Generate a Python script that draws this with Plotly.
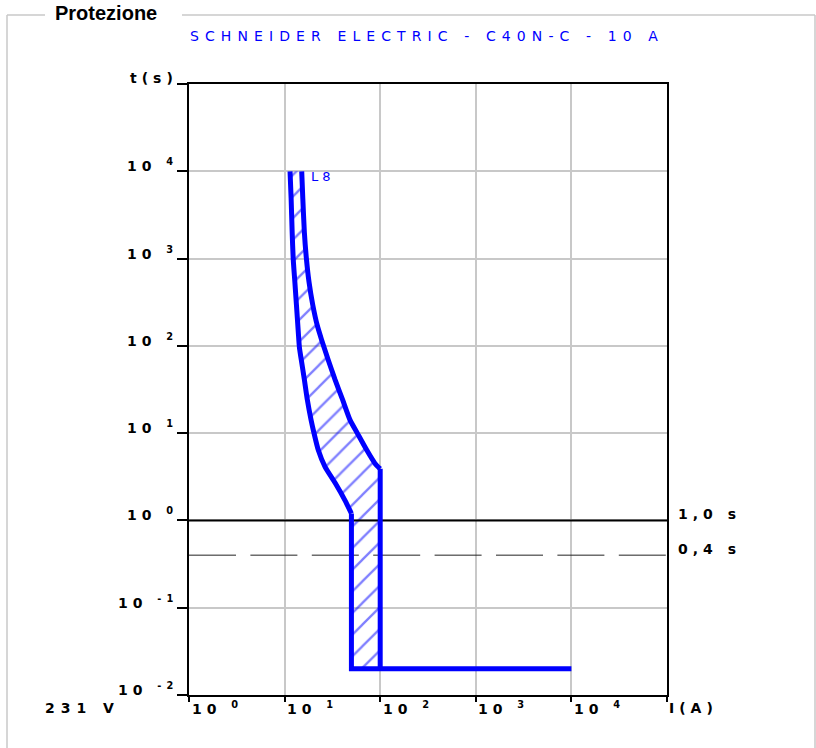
import math
import plotly.graph_objects as go

# ---------------- data ----------------
# minimum tripping curve (left edge of the band) : current (A), time (s)
left_I = [11.4, 11.7, 12.0, 12.3, 12.8, 13.3, 13.9, 14.3, 14.95, 16.1, 17.3, 18.9, 20.3,
          22.5, 26.5, 33.7, 42.8, 50.0, 50.0, 10000]
left_t = [10000, 4900, 2000, 1000, 540, 295, 145, 95, 69, 41, 24, 14.2, 10,
          6.4, 4.1, 2.7, 1.7, 1.2, 0.02, 0.02]
# maximum tripping curve (right edge of the band)
right_I = [15.1, 15.5, 16.1, 16.9, 18.0, 19.7, 22.0, 24.4, 28.6, 33.7, 40.5, 48.3, 57.6,
           72.3, 88.2, 100, 100]
right_t = [10000, 4900, 2000, 1000, 540, 295, 170, 117, 69, 41, 24, 14.2, 10,
           6.4, 4.5, 3.9, 0.02]
LEFT_BEND = 17    # index of the point where the left curve turns vertical
RIGHT_BEND = 15   # index of the point where the right curve turns vertical

ref_times = [1.0, 0.4]
ref_labels = ["1,0 s", "0,4 s"]

x_tick_exps = ["0", "1", "2", "3", "4"]
y_tick_exps = ["-2", "-1", "0", "1", "2", "3", "4"]
x_axis_label = "I(A)"
y_axis_label = "t(s)"
voltage_label = "231 V"
curve_label = "L8"
title_text = "SCHNEIDER ELECTRIC - C40N-C - 10 A"
box_title = "Protezione"

# ---------------- layout geometry ----------------
W, H = 816, 748
ML, MR, MT, MB = 189, 149, 84, 53
PW = W - ML - MR
PH = H - MT - MB


def px(x):
    return (x - ML) / PW


def py(y):
    return (H - MB - y) / PH


BLUE = "#0000ff"
FONT = "DejaVu Sans"
LABEL_SIZE = 14
LABEL_LS = 5


def spaced(text, ls):
    return f"<span style='letter-spacing:{ls}px'>{text}</span>"


def power_label(e):
    return spaced(f"10 <sup>{e}</sup>", LABEL_LS)


fig = go.Figure()

# hatched band between the two curves
band_x = left_I[:-1] + right_I[::-1]
band_y = left_t[:-1] + right_t[::-1]
fig.add_trace(go.Scatter(
    x=band_x, y=band_y, mode="lines", fill="toself",
    line=dict(width=0, color=BLUE),
    fillcolor="rgba(0,0,0,0)",
    fillpattern=dict(shape="/", size=15.3, solidity=0.15,
                     fgcolor=BLUE, bgcolor="rgba(0,0,0,0)"),
    hoverinfo="skip",
))

# reference time lines
fig.add_trace(go.Scatter(x=[1, 1e5], y=[ref_times[0]] * 2, mode="lines",
                         line=dict(color="black", width=2), hoverinfo="skip"))
fig.add_trace(go.Scatter(x=[1, 1e5], y=[ref_times[1]] * 2, mode="lines",
                         line=dict(color="#222222", width=1, dash="47px,14.4px"),
                         hoverinfo="skip"))

# curves: smooth thermal/magnetic part, then straight vertical/horizontal part
fig.add_trace(go.Scatter(x=left_I[:LEFT_BEND + 1], y=left_t[:LEFT_BEND + 1], mode="lines",
                         line=dict(color=BLUE, width=5, shape="spline", smoothing=0.6),
                         hoverinfo="skip"))
fig.add_trace(go.Scatter(x=left_I[LEFT_BEND:], y=left_t[LEFT_BEND:], mode="lines",
                         line=dict(color=BLUE, width=5), hoverinfo="skip"))
fig.add_trace(go.Scatter(x=right_I[:RIGHT_BEND + 1], y=right_t[:RIGHT_BEND + 1], mode="lines",
                         line=dict(color=BLUE, width=5, shape="spline", smoothing=0.6),
                         hoverinfo="skip"))
fig.add_trace(go.Scatter(x=right_I[RIGHT_BEND:], y=right_t[RIGHT_BEND:], mode="lines",
                         line=dict(color=BLUE, width=5), hoverinfo="skip"))

annotations = []
LFONT = dict(family=FONT, size=LABEL_SIZE, color="black", weight="bold")

# y tick labels
for e in y_tick_exps:
    annotations.append(dict(
        text=power_label(e), xref="paper", x=px(178),
        yref="y", y=int(e), yshift=6, xanchor="right", yanchor="middle",
        showarrow=False, font=LFONT, borderpad=0, borderwidth=0))
annotations.append(dict(
    text=spaced(y_axis_label, LABEL_LS), xref="paper", x=px(178),
    yref="y", y=5, yshift=6, xanchor="right", yanchor="middle",
    showarrow=False, font=LFONT, borderpad=0, borderwidth=0))

# x tick labels
for e in x_tick_exps:
    annotations.append(dict(
        text=power_label(e), xref="x", x=int(e), xshift=2.5,
        yref="paper", y=0, yshift=-13, xanchor="left", yanchor="middle",
        showarrow=False, font=LFONT, borderpad=0, borderwidth=0))
annotations.append(dict(
    text=spaced(x_axis_label, LABEL_LS), xref="x", x=5, xshift=2,
    yref="paper", y=0, yshift=-13, xanchor="left", yanchor="middle",
    showarrow=False, font=LFONT, borderpad=0, borderwidth=0))
annotations.append(dict(
    text=spaced(voltage_label, 6), xref="paper", x=px(45),
    yref="paper", y=0, yshift=-13, xanchor="left", yanchor="middle",
    showarrow=False, font=LFONT, borderpad=0, borderwidth=0))

# reference line labels
for t, lab in zip(ref_times, ref_labels):
    annotations.append(dict(
        text=spaced(lab, LABEL_LS), xref="paper", x=px(678),
        yref="y", y=math.log10(t), yshift=6, xanchor="left", yanchor="middle",
        showarrow=False, font=LFONT, borderpad=0, borderwidth=0))

# curve label
annotations.append(dict(
    text=spaced(curve_label, 4), xref="paper", x=px(311),
    yref="y", y=4, yshift=-5, xanchor="left", yanchor="middle",
    showarrow=False, font=dict(family=FONT, size=13, color=BLUE),
    borderpad=0, borderwidth=0))

# title
annotations.append(dict(
    text=spaced(title_text, 6.1), xref="paper", x=px(427),
    yref="paper", y=py(36), xanchor="center", yanchor="middle",
    showarrow=False, font=dict(family=FONT, size=14, color=BLUE),
    borderpad=0, borderwidth=0))

# group box title
annotations.append(dict(
    text=f"<b>{box_title}</b>", xref="paper", x=px(55),
    yref="paper", y=py(13), xanchor="left", yanchor="middle",
    showarrow=False, font=dict(family="Liberation Sans", size=20, color="black"),
    borderpad=0, borderwidth=0))

# group box frame
FR = "#c8c8c8"
shapes = []
for (x0, y0, x1, y1) in [(7, 15, 45, 15), (182, 15, 815, 15),
                         (7, 15, 7, 760), (815, 15, 815, 760)]:
    shapes.append(dict(type="line", xref="paper", yref="paper",
                       x0=px(x0), y0=py(y0), x1=px(x1), y1=py(y1),
                       line=dict(color=FR, width=1.5)))

fig.update_layout(
    width=W, height=H,
    margin=dict(l=ML, r=MR, t=MT, b=MB),
    paper_bgcolor="white", plot_bgcolor="white",
    showlegend=False,
    annotations=annotations,
    shapes=shapes,
    xaxis=dict(type="log", range=[0, 5], tickvals=[10 ** i for i in range(0, 6)],
               showticklabels=False, ticks="outside", ticklen=5, tickwidth=2,
               tickcolor="black", showline=True, linecolor="black", linewidth=2,
               mirror=True, showgrid=True, gridcolor="#c8c8c8", gridwidth=2,
               zeroline=False, fixedrange=True),
    yaxis=dict(type="log", range=[-2, 5], tickvals=[10 ** i for i in range(-2, 6)],
               showticklabels=False, ticks="outside", ticklen=10, tickwidth=2,
               tickcolor="black", showline=True, linecolor="black", linewidth=2,
               mirror=True, showgrid=True, gridcolor="#c8c8c8", gridwidth=2,
               zeroline=False, fixedrange=True),
)

fig.write_html("out.html")
